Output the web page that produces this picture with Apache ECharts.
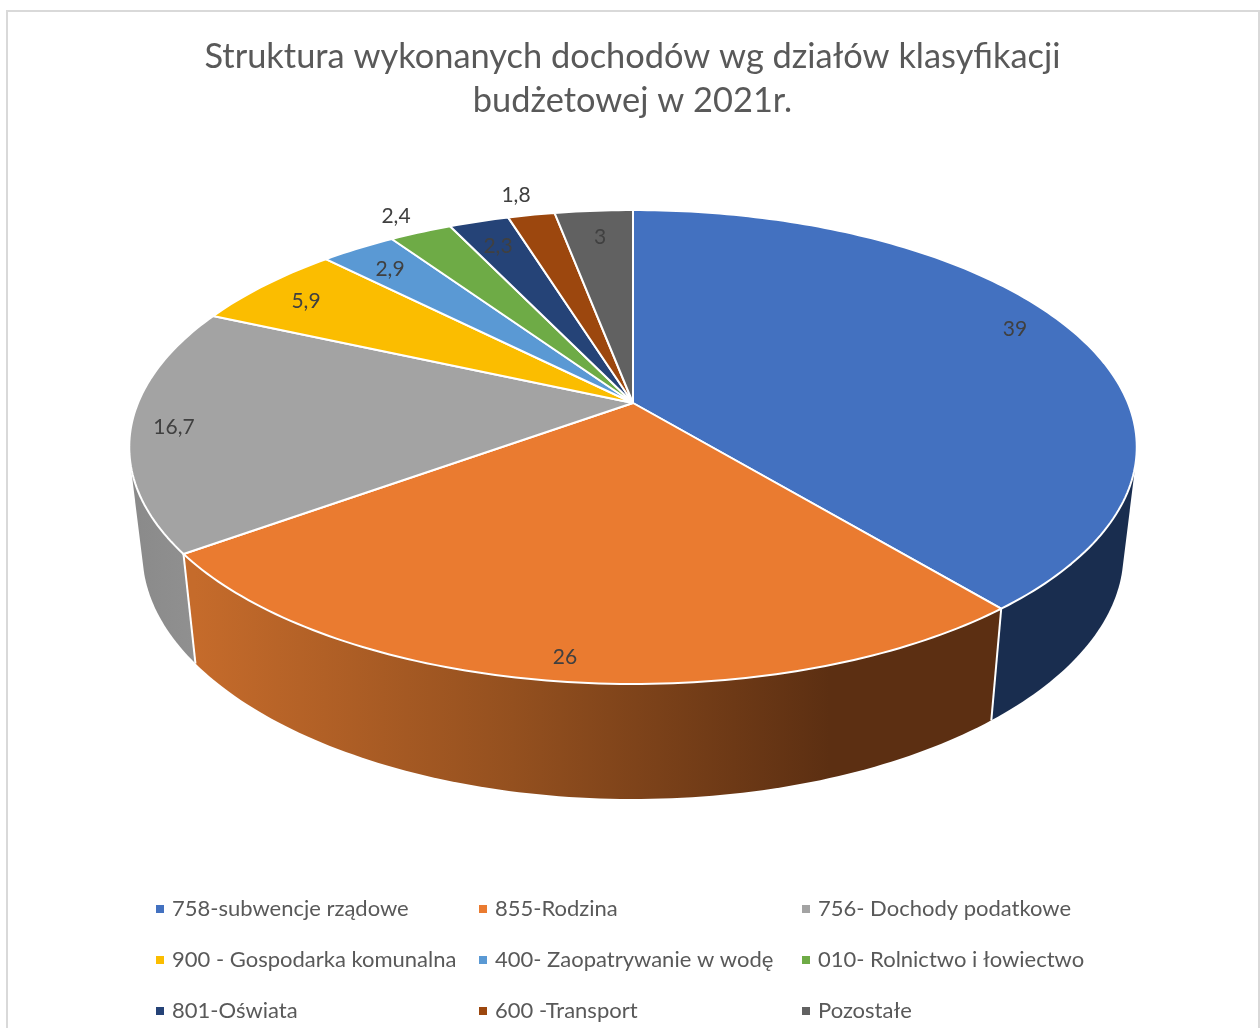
<!DOCTYPE html>
<html><head><meta charset="utf-8">
<style>html,body{margin:0;padding:0;background:#fff}#c{width:1260px;height:1028px}</style>
<script src="https://cdn.jsdelivr.net/npm/echarts@6/dist/echarts.min.js"></script>
</head><body><div id="c"></div>
<script>
const titleText = 'Struktura wykonanych dochodów wg działów klasyfikacji\nbudżetowej w 2021r.';
const categories = ['758-subwencje rządowe','855-Rodzina','756- Dochody podatkowe','900 - Gospodarka komunalna','400- Zaopatrywanie w wodę','010- Rolnictwo i łowiectwo','801-Oświata','600 -Transport','Pozostałe'];
const values = [39,26,16.7,5.9,2.9,2.4,2.3,1.8,3];
const colors = ['#4371C0','#EA7B30','#A3A3A3','#FBBD00','#5A99D4','#6EAB46','#254377','#9C470E','#616161'];
const labelPositions = [[1015,329],[565,657],[174,427],[306,301],[390,269],[396,216],[498,246],[516,195],[600,237]];

const FONT = 'Lato';
const TOP = {cx:633, cy:403, a:495, b:228.8, k:0.1857, kx:0.1857};
const BOT = {cx:633, cy:509, a:482, b:232, k:0.2, kx:0.185};
const total = values.reduce((s,v)=>s+v,0);
const starts = values.map((_,i)=>values.slice(0,i).reduce((s,v)=>s+v,0));
const ang = v => v/total*2*Math.PI;
function proj(P,t){const x=Math.sin(t),y=-Math.cos(t);return [P.cx+P.a*x/(1-P.kx*y),P.cy+P.b*y/(1-P.k*y)];}
function arcAngles(t0,t1){const n=Math.max(2,Math.ceil((t1-t0)/(Math.PI/180)));const r=[];for(let i=0;i<=n;i++)r.push(t0+(t1-t0)*i/n);return r;}
function hull(pts){
  const p=pts.slice().sort((a,b)=>a[0]-b[0]||a[1]-b[1]);
  const cross=(o,a,b)=>(a[0]-o[0])*(b[1]-o[1])-(a[1]-o[1])*(b[0]-o[0]);
  const half=list=>{const h=[];for(const q of list){while(h.length>=2&&cross(h[h.length-2],h[h.length-1],q)<=0)h.pop();h.push(q);}h.pop();return h;};
  return half(p).concat(half(p.slice().reverse()));
}
const G = (x0,x1,stops)=>new echarts.graphic.LinearGradient(x0,0,x1,0,stops.map(s=>({offset:s[0],color:s[1]})),true);
const sideFills = [
  '#192D4F',
  G(195,830,[[0,'#C56B2B'],[0.5,'#94501F'],[1,'#5C2F12']]),
  G(132,195,[[0,'#8A8A8A'],[1,'#909090']]),
  '#997300','#3A6A94','#446B2A','#16284A','#5E2B08','#3C3C3C'
];

function renderSide(params,api){
  const i=params.dataIndex, t0=ang(api.value(0)), t1=ang(api.value(0)+api.value(1));
  const A=arcAngles(t0,t1);
  const pts=hull(A.map(t=>proj(TOP,t)).concat(A.map(t=>proj(BOT,t))));
  const a=proj(TOP,t0), b=proj(BOT,t0);
  const front=Math.round(100-Math.abs((t0+t1)/2-Math.PI)*10);
  return {type:'group',children:[
    {type:'polygon',z2:front,shape:{points:pts},style:{fill:sideFills[i]},silent:true},
    {type:'line',z2:200,shape:{x1:a[0],y1:a[1],x2:b[0],y2:b[1]},style:{stroke:'#fff',lineWidth:2},silent:true}
  ]};
}
function renderTop(params,api){
  const i=params.seriesIndex-1, t0=ang(api.value(0)), t1=ang(api.value(0)+api.value(1));
  const pts=[[TOP.cx,TOP.cy]].concat(arcAngles(t0,t1).map(t=>proj(TOP,t)));
  return {type:'group',children:[
    {type:'polygon',shape:{points:pts},style:{fill:colors[i],stroke:'#fff',lineWidth:2,lineJoin:'round'},silent:true},
    {type:'text',x:labelPositions[i][0],y:labelPositions[i][1],z2:100,silent:true,
     style:{text:String(values[i]).replace('.',','),fill:'#404040',font:'21px '+FONT,align:'center',verticalAlign:'middle'}}
  ]};
}

const columnsX=[156,479,802], rowsY=[909,960,1011];
const legends=categories.map((c,i)=>({
  data:[c], left:columnsX[i%3], top:rowsY[Math.floor(i/3)]-13, orient:'horizontal', padding:0,
  icon:'rect', itemWidth:8, itemHeight:8, selectedMode:false,
  textStyle:{color:'#595959',fontFamily:FONT,fontSize:22,padding:[0,0,0,3],lineHeight:26}
}));

const series=[{type:'custom',name:'__sides',coordinateSystem:'none',z:1,renderItem:renderSide,
  data:values.map((v,i)=>[starts[i],v]),silent:true,animation:false}];
categories.forEach((c,i)=>series.push({type:'custom',name:c,coordinateSystem:'none',z:2,renderItem:renderTop,
  itemStyle:{color:colors[i]},data:[[starts[i],values[i]]],silent:true,animation:false}));

const chart=echarts.init(document.getElementById('c'),null,{renderer:'canvas'});
chart.setOption({
  animation:false, backgroundColor:'#fff',
  title:{text:titleText,left:627.5,textAlign:'center',top:30,
    textStyle:{color:'#595959',fontFamily:FONT,fontSize:34.4,fontWeight:'normal',lineHeight:44}},
  legend:legends,
  graphic:[{type:'rect',z:-1,silent:true,shape:{x:7,y:11,width:1252,height:1040},style:{fill:'none',stroke:'#D9D9D9',lineWidth:2}}],
  series
});
</script></body></html>
